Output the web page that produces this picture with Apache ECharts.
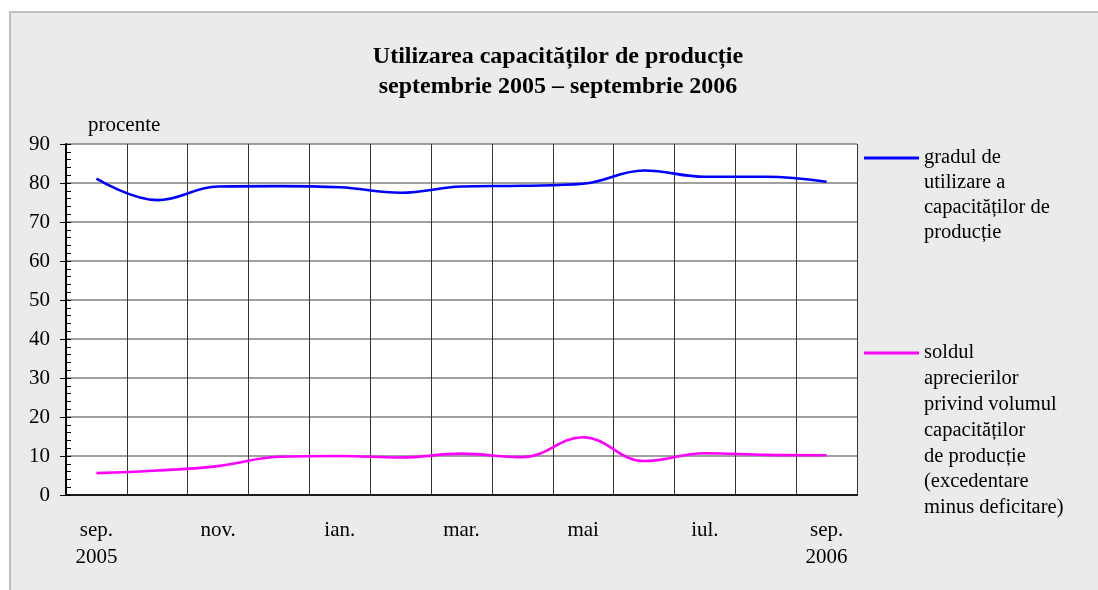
<!DOCTYPE html>
<html><head><meta charset="utf-8">
<script src="https://cdn.jsdelivr.net/npm/echarts@6/dist/echarts.min.js"></script>
<style>html,body{margin:0;padding:0;background:#fff}#c{width:1098px;height:590px}</style>
</head><body><div id="c"></div>
<script>
const categories = ['sep.\n2005','oct.','nov.','dec.','ian.','feb.','mar.','apr.','mai','iun.','iul.','aug.','sep.\n2006'];
const utilizare = [81.1, 75.6, 79.1, 79.2, 78.9, 77.5, 79.1, 79.3, 79.8, 83.2, 81.6, 81.6, 80.3];
const sold = [5.6, 6.3, 7.4, 9.8, 10.0, 9.6, 10.6, 9.7, 14.8, 8.7, 10.7, 10.3, 10.2];
const nameUtil = 'gradul de\nutilizare a\ncapacităților de\nproducție';
const nameSold = 'soldul\naprecierilor\nprivind volumul\ncapacităților\nde producție\n(excedentare\nminus deficitare)';
const titleText = 'Utilizarea capacităților de producție\nseptembrie 2005 – septembrie 2006';

const FONT = '"Liberation Serif", "DejaVu Serif", serif';
const chart = echarts.init(document.getElementById('c'), null, {renderer:'canvas'});

// legend icon: a short line at the first text line, inside a tall invisible box
function topLineIcon(h, lh) {
  const c = lh / 2;
  return 'path://M0,0L0.01,0L0,0.01Z M0,' + (c - 1.4) + 'L55,' + (c - 1.4) + 'L55,' + (c + 1.4) + 'L0,' + (c + 1.4) +
    'Z M54.99,' + h + 'L55,' + h + 'L55,' + (h - 0.01) + 'Z';
}
const lh0 = 25, lh1 = 25.8;
const h0 = 4 * lh0, h1 = 7 * lh1;

chart.setOption({
  backgroundColor: '#ffffff',
  animation: false,
  textStyle: {fontFamily: FONT, color: '#000'},
  graphic: [{
    type: 'rect', z: -10, silent: true,
    shape: {x: 10, y: 12, width: 1200, height: 700},
    style: {fill: '#ebebeb', stroke: '#c0c0c0', lineWidth: 2}
  }],
  title: {
    text: titleText,
    left: 553, top: 37, textAlign: 'center',
    textStyle: {fontFamily: FONT, fontWeight: 'bold', fontSize: 24, lineHeight: 30, color: '#000'}
  },
  legend: [{
    data: [nameUtil], left: 864, top: 158 - lh0 / 2, padding: 0,
    orient: 'vertical', icon: topLineIcon(h0, lh0), itemWidth: 55, itemHeight: h0, itemGap: 5,
    selectedMode: false,
    textStyle: {fontFamily: FONT, fontSize: 20.5, lineHeight: lh0, color: '#000'}
  },{
    data: [nameSold], left: 864, top: 353 - lh1 / 2, padding: 0,
    orient: 'vertical', icon: topLineIcon(h1, lh1), itemWidth: 55, itemHeight: h1, itemGap: 5,
    selectedMode: false,
    textStyle: {fontFamily: FONT, fontSize: 20.5, lineHeight: lh1, color: '#000'}
  }],
  grid: {left: 66, right: 241, top: 144, bottom: 95, show: true, backgroundColor: '#ffffff', borderWidth: 0},
  xAxis: [{
    type: 'category', data: categories, boundaryGap: true,
    axisLine: {show: true, onZero: false, lineStyle: {color: '#000', width: 2}},
    axisTick: {show: false},
    axisLabel: {interval: 1, margin: 22, fontFamily: FONT, fontSize: 21, lineHeight: 27, color: '#000'},
    splitLine: {show: true, interval: 0, lineStyle: {color: '#333', width: 1}}
  },{
    type: 'category', data: categories, position: 'top', boundaryGap: true,
    axisLine: {show: true, lineStyle: {color: '#222', width: 1.5}},
    axisTick: {show: false}, axisLabel: {show: false}, splitLine: {show: false}
  }],
  yAxis: [{
    type: 'value', min: 0, max: 90, interval: 10,
    name: 'procente', nameLocation: 'end', nameGap: 19,
    nameTextStyle: {fontFamily: FONT, fontSize: 21, color: '#000', align: 'left', verticalAlign: 'middle', padding: [0, 0, 0, 22]},
    axisLine: {show: true, lineStyle: {color: '#000', width: 2}},
    axisTick: {show: true, inside: false, length: 6, lineStyle: {color: '#000', width: 1}},
    axisLabel: {margin: 16, fontFamily: FONT, fontSize: 21, color: '#000'},
    splitLine: {show: true, lineStyle: {color: '#808080', width: 1.5}}
  },{
    type: 'value', min: 0, max: 90, interval: 2, position: 'left',
    axisLine: {show: false},
    axisTick: {show: true, inside: true, length: 5, lineStyle: {color: '#000', width: 1}},
    axisLabel: {show: false}, splitLine: {show: false}
  }],
  series: [{
    name: nameUtil, type: 'line', data: utilizare, smooth: 0.4,
    showSymbol: false, symbol: 'none',
    itemStyle: {color: '#0000ff'},
    lineStyle: {color: '#0000ff', width: 2.6}
  },{
    name: nameSold, type: 'line', data: sold, smooth: 0.4,
    showSymbol: false, symbol: 'none',
    itemStyle: {color: '#ff00ff'},
    lineStyle: {color: '#ff00ff', width: 2.6}
  }]
});
</script>
</body></html>
